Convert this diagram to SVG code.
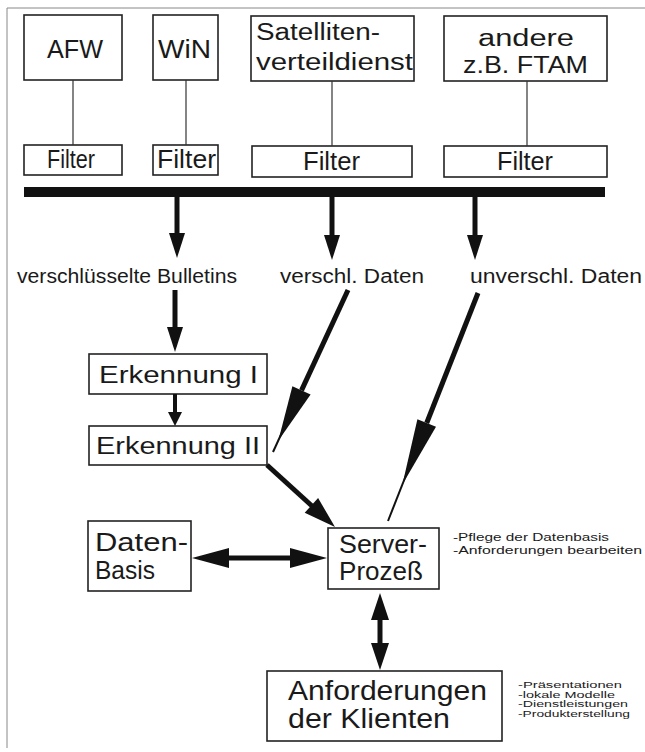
<svg xmlns="http://www.w3.org/2000/svg" width="645" height="752" viewBox="0 0 645 752">
<style>
.box{fill:#fff;stroke:#222;stroke-width:1.6}
.thin{stroke:#333;stroke-width:1.2;fill:none}
.t{font-family:"Liberation Sans",Arial,sans-serif;fill:#1a1a1a}
.big{font-size:26px}
.mid{font-size:23px}
.lab{font-size:20px}
.sm{font-size:11px}
.xs{font-size:8.4px}
.shaft{stroke:#111;stroke-width:5;fill:none}
.shaft2{stroke:#111;stroke-width:2;fill:none}
.head{fill:#111}
.frame{stroke:#888;stroke-width:1;fill:none}
</style>
<path class="frame" d="M645,8 H7 V748"/>

<g id="afw">
<rect class="box" x="24" y="15" width="98" height="65"/>
<text class="t big" x="47" y="58" textLength="56" lengthAdjust="spacingAndGlyphs">AFW</text>
</g>
<g id="win">
<rect class="box" x="153" y="15" width="65" height="65"/>
<text class="t big" x="158" y="58" textLength="53" lengthAdjust="spacingAndGlyphs">WiN</text>
</g>
<g id="satellit">
<rect class="box" x="251" y="16" width="163" height="65"/>
<text class="t mid" x="256" y="40" textLength="124" lengthAdjust="spacingAndGlyphs">Satelliten-</text>
<text class="t mid" x="256" y="70" textLength="157" lengthAdjust="spacingAndGlyphs">verteildienst</text>
</g>
<g id="andere">
<rect class="box" x="444" y="16" width="163" height="65"/>
<text class="t mid" x="478" y="46" textLength="96" lengthAdjust="spacingAndGlyphs">andere</text>
<text class="t mid" x="463" y="73" textLength="125" lengthAdjust="spacingAndGlyphs">z.B.  FTAM</text>
</g>

<g id="filter1">
<rect class="box" x="24" y="145" width="98" height="30"/>
<text class="t big" x="47" y="168" textLength="48" lengthAdjust="spacingAndGlyphs">Filter</text>
</g>
<g id="filter2">
<rect class="box" x="153" y="145" width="65" height="30"/>
<text class="t big" x="157" y="168" textLength="59" lengthAdjust="spacingAndGlyphs">Filter</text>
</g>
<g id="filter3">
<rect class="box" x="252" y="146" width="160" height="31"/>
<text class="t big" x="303" y="170" textLength="57" lengthAdjust="spacingAndGlyphs">Filter</text>
</g>
<g id="filter4">
<rect class="box" x="444" y="146" width="163" height="31"/>
<text class="t big" x="497" y="170" textLength="56" lengthAdjust="spacingAndGlyphs">Filter</text>
</g>

<g id="bus">
<rect x="24" y="187" width="581" height="10" fill="#111"/>
</g>

<g id="labels">
<text class="t lab" x="17" y="283" textLength="220" lengthAdjust="spacingAndGlyphs">verschlüsselte  Bulletins</text>
<text class="t lab" x="280" y="283" textLength="144" lengthAdjust="spacingAndGlyphs">verschl.  Daten</text>
<text class="t lab" x="470" y="283" textLength="172" lengthAdjust="spacingAndGlyphs">unverschl.  Daten</text>
</g>

<g id="erkennung1">
<rect class="box" x="89" y="354" width="178" height="40"/>
<text class="t mid" x="99" y="383" textLength="159" lengthAdjust="spacingAndGlyphs">Erkennung   I</text>
</g>
<g id="erkennung2">
<rect class="box" x="89" y="426" width="178" height="39"/>
<text class="t mid" x="96" y="454" textLength="164" lengthAdjust="spacingAndGlyphs">Erkennung  II</text>
</g>

<g id="datenbasis">
<rect class="box" x="88" y="521" width="103" height="70"/>
<text class="t big" x="95" y="551" textLength="93" lengthAdjust="spacingAndGlyphs">Daten-</text>
<text class="t big" x="95" y="579" textLength="60" lengthAdjust="spacingAndGlyphs">Basis</text>
</g>
<g id="server">
<rect class="box" x="328" y="528" width="111" height="61"/>
<text class="t big" x="339" y="553" textLength="88" lengthAdjust="spacingAndGlyphs">Server-</text>
<text class="t big" x="339" y="580" textLength="84" lengthAdjust="spacingAndGlyphs">Prozeß</text>
<text class="t sm" x="453" y="541" textLength="156" lengthAdjust="spacingAndGlyphs">-Pflege der Datenbasis</text>
<text class="t sm" x="453" y="554" textLength="189" lengthAdjust="spacingAndGlyphs">-Anforderungen  bearbeiten</text>
</g>
<g id="klienten">
<rect class="box" x="267" y="671" width="235" height="70"/>
<text class="t" font-size="27" x="288" y="700" textLength="199" lengthAdjust="spacingAndGlyphs">Anforderungen</text>
<text class="t" font-size="27" x="288" y="728" textLength="162" lengthAdjust="spacingAndGlyphs">der  Klienten</text>
<text class="t xs" x="518" y="688" textLength="104" lengthAdjust="spacingAndGlyphs">-Präsentationen</text>
<text class="t xs" x="518" y="697.5" textLength="97" lengthAdjust="spacingAndGlyphs">-lokale  Modelle</text>
<text class="t xs" x="518" y="707" textLength="110" lengthAdjust="spacingAndGlyphs">-Dienstleistungen</text>
<text class="t xs" x="518" y="716.5" textLength="112" lengthAdjust="spacingAndGlyphs">-Produkterstellung</text>
</g>

<g id="connectors">
<line class="thin" x1="73" y1="80" x2="73" y2="145"/>
<line class="thin" x1="186" y1="80" x2="186" y2="145"/>
<line class="thin" x1="332" y1="81" x2="332" y2="146"/>
<line class="thin" x1="527" y1="81" x2="527" y2="146"/>

<line class="shaft" x1="177" y1="197" x2="177" y2="236"/>
<polygon class="head" points="169,233 185,233 177,258"/>
<line class="shaft" x1="332" y1="197" x2="332" y2="238"/>
<polygon class="head" points="324,235 340,235 332,260"/>
<line class="shaft" x1="475" y1="197" x2="475" y2="238"/>
<polygon class="head" points="467,235 483,235 475,260"/>

<line class="shaft" x1="175" y1="290" x2="175" y2="330"/>
<polygon class="head" points="167,327 183,327 175,352"/>

<line class="shaft" style="stroke-width:4" x1="175" y1="394" x2="175" y2="415"/>
<polygon class="head" points="168,412 182,412 175,426"/>

<line class="shaft" x1="348" y1="290" x2="301.5" y2="390.4"/>
<polygon class="head" points="310.6,394.6 292.4,386.2 278.3,440.7"/>
<line class="shaft2" x1="290" y1="415" x2="273" y2="452"/>

<line class="shaft" x1="478" y1="293" x2="426.7" y2="423"/>
<polygon class="head" points="436,426.7 417.4,419.3 402.4,484.5"/>
<line class="shaft2" x1="412" y1="460" x2="388" y2="521"/>

<line class="shaft" x1="267" y1="465" x2="312" y2="506"/>
<polygon class="head" points="304.7,512.8 318.1,498 335,527"/>

<line class="shaft" x1="228" y1="558" x2="291" y2="558"/>
<polygon class="head" points="192,558 229,548 229,568"/>
<polygon class="head" points="327,558 290,548 290,568"/>

<line class="shaft" x1="380" y1="618" x2="380" y2="645"/>
<polygon class="head" points="380,593 371,620 389,620"/>
<polygon class="head" points="380,670 371,643 389,643"/>
</g>
</svg>
